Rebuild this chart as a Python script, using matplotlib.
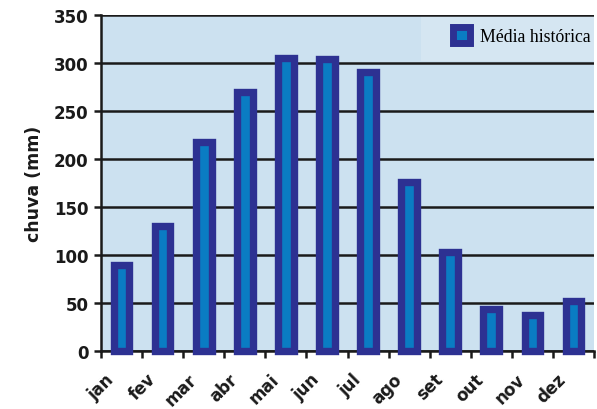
import matplotlib
matplotlib.use("Agg")
import matplotlib.pyplot as plt
import matplotlib.transforms as mtransforms
import numpy as np

months = ["jan", "fev", "mar", "abr", "mai", "jun", "jul", "ago", "set", "out", "nov", "dez"]
chuva = [90, 130, 218, 270, 305, 304, 291, 176, 103, 44, 37, 52]
yticks = [0, 50, 100, 150, 200, 250, 300, 350]
legend_label = "Média histórica"
ylabel = "chuva (mm)"

W, H = 597, 410
fig = plt.figure(figsize=(W / 100, H / 100), dpi=100)
ax = fig.add_axes([101 / W, (H - 352) / H, (594 - 101) / W, (352 - 16) / H])
ax.set_facecolor("#cce1f0")

# lighter panel behind legend (in axes coords)
ax_w, ax_h = 594 - 101, 352 - 16
ax.add_patch(plt.Rectangle(((421 - 101) / ax_w, (352 - 62) / ax_h), (594 - 421) / ax_w,
                           (62 - 17) / ax_h, transform=ax.transAxes,
                           facecolor="#d5e6f2", edgecolor="none", zorder=0.2))

x = np.arange(len(months))
bars = ax.bar(x, chuva, width=0.38, color="#0a7cc3", edgecolor="#2d3192",
              linewidth=5.3, zorder=3, clip_on=False, label=legend_label)

ax.set_xlim(-0.5, len(months) - 0.5)
ax.set_ylim(0, 350)
ax.set_yticks(yticks)
ax.yaxis.grid(True, color="#1a1a1a", linewidth=1.8, zorder=1)
ax.set_axisbelow(True)

for s in ["top", "right"]:
    ax.spines[s].set_visible(False)
for s in ["left", "bottom"]:
    ax.spines[s].set_linewidth(1.8)
    ax.spines[s].set_color("#1a1a1a")

sans = "DejaVu Sans"
ax.set_xticks(np.arange(-0.5, len(months), 1.0))
ax.set_xticklabels([])
ax.set_xticks(x, minor=True)
ax.tick_params(axis="x", which="major", length=5, width=1.8, color="#1a1a1a")
ax.tick_params(axis="x", which="minor", length=0, pad=18)
ax.set_xticklabels(months, minor=True, rotation=45, ha="right", va="center",
                   rotation_mode="anchor", fontsize=12, fontweight="bold",
                   family=sans, color="#1a1a1a")
off = mtransforms.ScaledTranslation(-10 / 100, 0, fig.dpi_scale_trans)
for lab in ax.get_xticklabels(minor=True):
    lab.set_transform(lab.get_transform() + off)

ax.tick_params(axis="y", length=5, width=1.8, color="#1a1a1a", pad=4)
for lab in ax.get_yticklabels():
    lab.set_fontsize(12)
    lab.set_fontweight("bold")
    lab.set_family(sans)
    lab.set_color("#1a1a1a")

ax.set_ylabel(ylabel, fontsize=12.5, fontweight="bold", family=sans,
              color="#1a1a1a", labelpad=8)

leg = ax.legend(loc="upper left", bbox_to_anchor=(453 / W, 1 - 28 / H),
                bbox_transform=fig.transFigure, frameon=False,
                prop={"family": "Liberation Serif", "size": 12.8},
                handlelength=0.98, handleheight=0.98, handletextpad=0.55,
                borderpad=0, borderaxespad=0)
for h in leg.legend_handles:
    h.set_linewidth(5)
leg.set_zorder(5)

fig.savefig("out.png", dpi=100)
